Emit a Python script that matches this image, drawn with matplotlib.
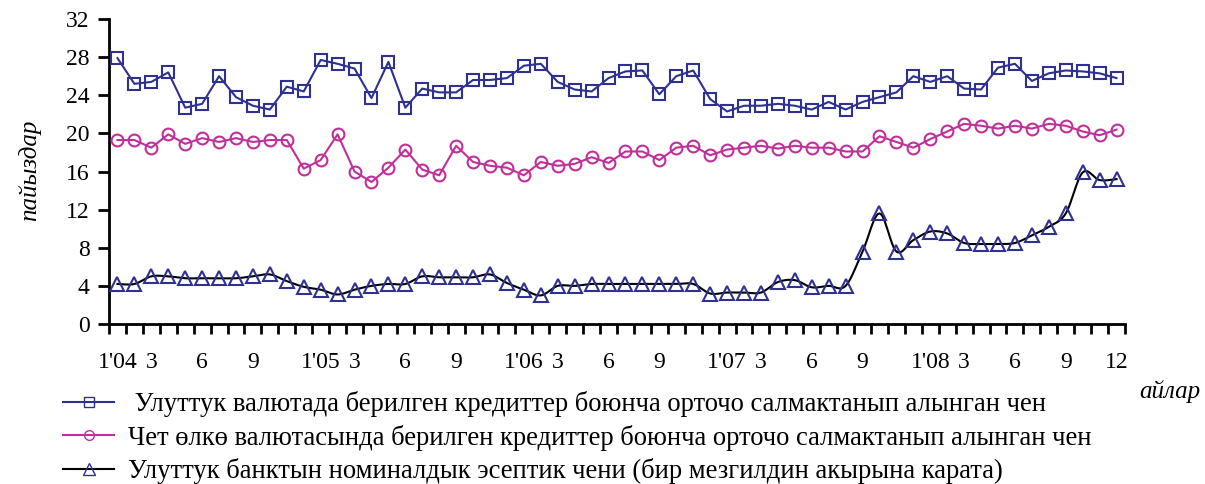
import numpy as np
import matplotlib
matplotlib.use("Agg")
import matplotlib.pyplot as plt
from matplotlib.lines import Line2D

plt.rcParams['font.family'] = ['Liberation Serif', 'DejaVu Serif']

# monthly series, Jan 2004 - Dec 2008
national = [27.9, 25.2, 25.4, 26.4, 22.7, 23.1, 26.0, 23.8, 22.9, 22.5,
            24.9, 24.4, 27.7, 27.3, 26.8, 23.7, 27.5, 22.7, 24.7, 24.3,
            24.3, 25.6, 25.6, 25.8, 27.1, 27.3, 25.4, 24.6, 24.4, 25.8,
            26.5, 26.6, 24.1, 26.0, 26.6, 23.6, 22.3, 22.9, 22.9, 23.1,
            22.9, 22.5, 23.3, 22.5, 23.3, 23.8, 24.3, 26.0, 25.4, 26.0,
            24.7, 24.6, 26.9, 27.3, 25.5, 26.3, 26.6, 26.5, 26.3, 25.8]
foreign = [19.3, 19.3, 18.5, 19.9, 18.9, 19.5, 19.1, 19.5, 19.1, 19.3,
           19.3, 16.3, 17.2, 19.9, 16.0, 14.9, 16.4, 18.3, 16.2, 15.6,
           18.7, 17.0, 16.6, 16.4, 15.6, 17.0, 16.6, 16.8, 17.5, 16.9,
           18.1, 18.1, 17.2, 18.5, 18.7, 17.7, 18.3, 18.5, 18.7, 18.4,
           18.7, 18.5, 18.5, 18.1, 18.1, 19.7, 19.1, 18.5, 19.4, 20.2,
           21.0, 20.8, 20.5, 20.8, 20.5, 21.0, 20.8, 20.2, 19.8, 20.4]
discount = [4.2, 4.2, 5.0, 5.0, 4.8, 4.8, 4.8, 4.8, 5.0, 5.2,
            4.5, 3.9, 3.6, 3.1, 3.6, 4.0, 4.2, 4.2, 5.0, 4.9,
            4.9, 4.9, 5.2, 4.3, 3.6, 3.0, 4.0, 4.0, 4.2, 4.2,
            4.2, 4.2, 4.2, 4.2, 4.2, 3.2, 3.3, 3.3, 3.3, 4.4,
            4.6, 3.85, 4.0, 4.0, 7.6, 11.6, 7.6, 8.8, 9.7, 9.5,
            8.5, 8.4, 8.4, 8.5, 9.3, 10.2, 11.6, 15.9, 15.1, 15.2]

label_pos = [0, 2, 5, 8, 12, 14, 17, 20, 24, 26, 29, 32, 36, 38, 41, 44,
             48, 50, 53, 56, 59]
label_txt = ["1'04", "3", "6", "9", "1'05", "3", "6", "9", "1'06", "3",
             "6", "9", "1'07", "3", "6", "9", "1'08", "3", "6", "9", "12"]

legend_txt = [
    " Улуттук валютада берилген кредиттер боюнча орточо салмактанып алынган чен",
    "Чет өлкө валютасында берилген кредиттер боюнча орточо салмактанып алынган чен",
    "Улуттук банктын номиналдык эсептик чени (бир мезгилдин акырына карата)",
]

NAVY = '#2E3192'
MAGENTA = '#C0309A'


def smooth(x, y, n=12):
    # Catmull-Rom curve through the points
    x = np.asarray(x, float)
    y = np.asarray(y, float)
    px = np.concatenate([[x[0]], x, [x[-1]]])
    py = np.concatenate([[y[0]], y, [y[-1]]])
    t = np.linspace(0, 1, n, endpoint=False)
    xs, ys = [], []
    for i in range(1, len(px) - 2):
        for p, out in ((px, xs), (py, ys)):
            p0, p1, p2, p3 = p[i - 1], p[i], p[i + 1], p[i + 2]
            out.extend(0.5 * ((2 * p1) + (-p0 + p2) * t
                              + (2 * p0 - 5 * p1 + 4 * p2 - p3) * t ** 2
                              + (-p0 + 3 * p1 - 3 * p2 + p3) * t ** 3))
    xs.append(x[-1])
    ys.append(y[-1])
    return np.array(xs), np.array(ys)


fig = plt.figure(figsize=(12.05, 4.84), dpi=100)
ax = fig.add_axes([109 / 1205, 1 - 324 / 484, 1016 / 1205, 305 / 484])

x = np.arange(len(national))
ax.plot(x, national, color=NAVY, lw=1.5, marker='s', ms=8.5, mfc='none',
        mec=NAVY, mew=1.5, zorder=3)
ax.plot(x, foreign, color=MAGENTA, lw=1.5, marker='o', ms=8.5, mfc='none',
        mec=MAGENTA, mew=1.5, zorder=3)
sx, sy = smooth(x, discount)
ax.plot(sx, sy, color='black', lw=1.5, zorder=2)
ax.plot(x, discount, ls='none', marker='^', ms=10, mfc='none', mec=NAVY,
        mew=1.5, zorder=3)

ax.set_xlim(-0.5, len(x) - 0.5)
ax.set_ylim(0, 32)
ax.set_yticks(np.arange(0, 33, 4))
ax.set_xticks(label_pos)
ax.set_xticklabels(label_txt)
ax.set_xticks(np.arange(-0.5, len(x)), minor=True)
ax.tick_params(axis='x', which='major', length=0, pad=20, labelsize=17)
ax.tick_params(axis='x', which='minor', length=7, width=2, direction='out')
ax.tick_params(axis='y', length=8, width=2, direction='out', labelsize=17,
               pad=6)
for s in ('top', 'right'):
    ax.spines[s].set_visible(False)
for s in ('left', 'bottom'):
    ax.spines[s].set_linewidth(2)

fig.text(30 / 1205, 1 - 170 / 484, 'пайыздар', rotation=90, style='italic',
         fontsize=18, ha='center', va='center')
fig.text(1170 / 1205, 1 - 392 / 484, 'айлар', style='italic', fontsize=18,
         ha='center', va='center')

handles = [
    Line2D([], [], color=NAVY, lw=1.5, marker='s', ms=7, mfc='none', mec=NAVY),
    Line2D([], [], color=MAGENTA, lw=1.5, marker='o', ms=7, mfc='none',
           mec=MAGENTA),
    Line2D([], [], color='black', lw=1.5, marker='^', ms=8, mfc='none',
           mec=NAVY),
]
fig.legend(handles, legend_txt, loc='upper left',
           bbox_to_anchor=(63 / 1205, 1 - 391 / 484), frameon=False,
           fontsize=19.2, handlelength=1.93, handletextpad=0.5,
           labelspacing=0.29, borderaxespad=0, borderpad=0)

fig.savefig('out.png', dpi=100)
